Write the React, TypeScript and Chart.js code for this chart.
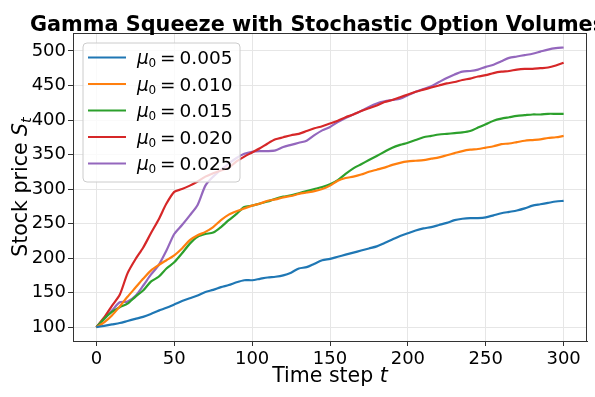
import React, { useEffect, useRef } from "react";
import { Chart, registerables } from "chart.js";

Chart.register(...registerables);

const timeSteps = [0, 5, 10, 15, 20, 25, 30, 35, 40, 45, 50, 55, 60, 65, 70, 75, 80, 85, 90, 95, 100, 105, 110, 115, 120, 125, 130, 135, 140, 145, 150, 155, 160, 165, 170, 175, 180, 185, 190, 195, 200, 205, 210, 215, 220, 225, 230, 235, 240, 245, 250, 255, 260, 265, 270, 275, 280, 285, 290, 295, 300];

const mu005 = [100, 102, 104, 106, 109, 112, 115, 119, 124, 128, 133, 138, 142, 146, 151, 154, 158, 161, 165, 168, 168, 170, 172, 173, 175, 179, 185, 187, 192, 197, 199, 202, 205, 208, 211, 214, 217, 222, 227, 232, 236, 240, 243, 245, 248, 251, 255, 257, 258, 258, 259, 262, 265, 267, 269, 272, 276, 278, 280, 282, 283];
const mu010 = [100, 107, 117, 130, 144, 157, 170, 182, 190, 197, 204, 214, 226, 233, 238, 245, 255, 263, 268, 272, 276, 279, 283, 285, 288, 290, 293, 295, 297, 300, 305, 312, 316, 318, 321, 325, 328, 331, 335, 338, 340, 341, 342, 344, 346, 349, 352, 355, 357, 358, 360, 362, 365, 366, 368, 370, 371, 372, 374, 375, 377];
const mu015 = [100, 112, 122, 129, 134, 144, 153, 166, 173, 185, 194, 207, 221, 231, 235, 237, 245, 255, 264, 274, 276, 279, 282, 286, 289, 291, 294, 297, 300, 303, 307, 313, 322, 330, 336, 342, 348, 354, 360, 364, 367, 371, 375, 377, 379, 380, 381, 382, 384, 389, 394, 399, 402, 404, 406, 407, 408, 408, 409, 409, 409];
const mu020 = [100, 114, 131, 147, 178, 198, 215, 236, 256, 279, 296, 300, 305, 311, 318, 323, 327, 331, 340, 347, 353, 359, 366, 372, 375, 378, 380, 384, 388, 391, 395, 399, 404, 408, 413, 417, 421, 426, 429, 433, 437, 441, 444, 447, 450, 453, 455, 458, 460, 463, 465, 468, 470, 471, 473, 474, 474, 475, 476, 479, 483];
const mu025 = [100, 112, 124, 136, 137, 145, 160, 176, 190, 211, 235, 248, 262, 277, 305, 318, 328, 337, 345, 351, 354, 355, 355, 356, 361, 364, 367, 370, 378, 385, 390, 397, 403, 408, 413, 419, 424, 427, 429, 431, 436, 441, 445, 449, 455, 461, 466, 470, 471, 473, 477, 480, 485, 490, 492, 494, 496, 499, 502, 504, 505];

const seriesLabels = ["0.005", "0.010", "0.015", "0.020", "0.025"];
const seriesValues = [mu005, mu010, mu015, mu020, mu025];
const seriesColors = ["#1f77b4", "#ff7f0e", "#2ca02c", "#d62728", "#9467bd"];

const xTicks = [0, 50, 100, 150, 200, 250, 300];
const yTicks = [100, 150, 200, 250, 300, 350, 400, 450, 500];

const titleText = "Gamma Squeeze with Stochastic Option Volumes";
const FONT = "'DejaVu Sans', sans-serif";

const decorPlugin = {
  id: "decor",
  afterDraw(chart: any) {
    const { ctx, chartArea: a } = chart;
    ctx.save();
    // spines
    ctx.strokeStyle = "#333333";
    ctx.lineWidth = 1;
    ctx.strokeRect(a.left + 0.5, a.top + 0.5, a.right - a.left - 1, a.bottom - a.top);

    // title
    ctx.fillStyle = "#000";
    ctx.textBaseline = "alphabetic";
    ctx.textAlign = "left";
    ctx.font = `bold 20.8px ${FONT}`;
    ctx.fillText(titleText, 30, 30.5);

    // x label: "Time step t"
    const LBL = 20.5;
    const xPart1 = "Time step ";
    ctx.font = `${LBL}px ${FONT}`;
    const w1 = ctx.measureText(xPart1).width;
    ctx.font = `italic ${LBL}px ${FONT}`;
    const w2 = ctx.measureText("t").width;
    const x0 = (a.left + a.right) / 2 - (w1 + w2) / 2;
    ctx.font = `${LBL}px ${FONT}`;
    ctx.fillText(xPart1, x0, 382);
    ctx.font = `italic ${LBL}px ${FONT}`;
    ctx.fillText("t", x0 + w1, 382);

    // y label: "Stock price S_t"
    ctx.save();
    ctx.translate(27, (a.top + a.bottom) / 2);
    ctx.rotate(-Math.PI / 2);
    const yPart1 = "Stock price ";
    ctx.font = `${LBL}px ${FONT}`;
    const yw1 = ctx.measureText(yPart1).width;
    ctx.font = `italic ${LBL}px ${FONT}`;
    const yw2 = ctx.measureText("S").width;
    ctx.font = `italic 14.5px ${FONT}`;
    const yw3 = ctx.measureText("t").width;
    const y0 = -(yw1 + yw2 + yw3) / 2;
    ctx.font = `${LBL}px ${FONT}`;
    ctx.fillText(yPart1, y0, 0);
    ctx.font = `italic ${LBL}px ${FONT}`;
    ctx.fillText("S", y0 + yw1, 0);
    ctx.font = `italic 14.5px ${FONT}`;
    ctx.fillText("t", y0 + yw1 + yw2, 4);
    ctx.restore();

    // legend
    const bx = 83, by = 43, bw = 157, bh = 139, r = 4;
    ctx.beginPath();
    ctx.moveTo(bx + r, by);
    ctx.lineTo(bx + bw - r, by);
    ctx.quadraticCurveTo(bx + bw, by, bx + bw, by + r);
    ctx.lineTo(bx + bw, by + bh - r);
    ctx.quadraticCurveTo(bx + bw, by + bh, bx + bw - r, by + bh);
    ctx.lineTo(bx + r, by + bh);
    ctx.quadraticCurveTo(bx, by + bh, bx, by + bh - r);
    ctx.lineTo(bx, by + r);
    ctx.quadraticCurveTo(bx, by, bx + r, by);
    ctx.closePath();
    ctx.fillStyle = "rgba(255,255,255,0.8)";
    ctx.fill();
    ctx.strokeStyle = "#cccccc";
    ctx.lineWidth = 1;
    ctx.stroke();

    for (let i = 0; i < seriesLabels.length; i++) {
      const cy = 57.5 + i * 26.5;
      ctx.strokeStyle = seriesColors[i];
      ctx.lineWidth = 2.2;
      ctx.beginPath();
      ctx.moveTo(88, cy);
      ctx.lineTo(126, cy);
      ctx.stroke();
      ctx.fillStyle = "#000";
      const base = cy + 6.5;
      ctx.font = `italic 18.5px ${FONT}`;
      ctx.fillText("\u03bc", 137, base);
      ctx.font = `12px ${FONT}`;
      ctx.fillText("0", 148.5, base + 3);
      ctx.font = `18.5px ${FONT}`;
      ctx.fillText("=", 160, base);
      ctx.fillText(seriesLabels[i], 179.5, base);
    }
    ctx.restore();
  },
};

export default function App() {
  const canvasRef = useRef<HTMLCanvasElement | null>(null);

  useEffect(() => {
    document.body.style.margin = "0";
    const canvas = canvasRef.current;
    if (!canvas) return;
    const datasets = seriesValues.map((vals, i) => ({
      label: "mu0 = " + seriesLabels[i],
      data: timeSteps.map((t, j) => ({ x: t, y: vals[j] })),
      borderColor: seriesColors[i],
      backgroundColor: seriesColors[i],
      borderWidth: 2.2,
      pointRadius: 0,
      tension: 0.25,
      fill: false,
    }));
    const tickFont = { family: FONT, size: 18 };
    const chart = new Chart(canvas, {
      type: "line",
      data: { datasets },
      options: {
        animation: false,
        responsive: false,
        maintainAspectRatio: false,
        layout: { padding: { left: 0, right: 8, top: 33, bottom: 0 } },
        plugins: {
          legend: { display: false },
          title: { display: false },
          tooltip: { enabled: false },
        },
        scales: {
          x: {
            type: "linear",
            min: -15,
            max: 315,
            afterBuildTicks: (s: any) => {
              s.ticks = xTicks.map((v) => ({ value: v }));
            },
            afterFit: (s: any) => {
              s.height = 56;
            },
            ticks: { font: tickFont, color: "#000", padding: 3, maxRotation: 0, autoSkip: false },
            grid: { color: "#e6e6e6", lineWidth: 1, tickLength: 5, tickColor: "#333333" },
            border: { color: "#333333", width: 1 },
          },
          y: {
            type: "linear",
            min: 80,
            max: 526,
            afterBuildTicks: (s: any) => {
              s.ticks = yTicks.map((v) => ({ value: v }));
            },
            afterFit: (s: any) => {
              s.width = 73;
            },
            ticks: { font: tickFont, color: "#000", padding: 2, autoSkip: false },
            grid: { color: "#e6e6e6", lineWidth: 1, tickLength: 5, tickColor: "#333333" },
            border: { color: "#333333", width: 1 },
          },
        },
      },
      plugins: [decorPlugin],
    });
    return () => chart.destroy();
  }, []);

  return (
    <div style={{ width: 595, height: 397, position: "relative" }}>
      <canvas ref={canvasRef} width={595} height={397} style={{ width: 595, height: 397, display: "block" }} />
    </div>
  );
}
